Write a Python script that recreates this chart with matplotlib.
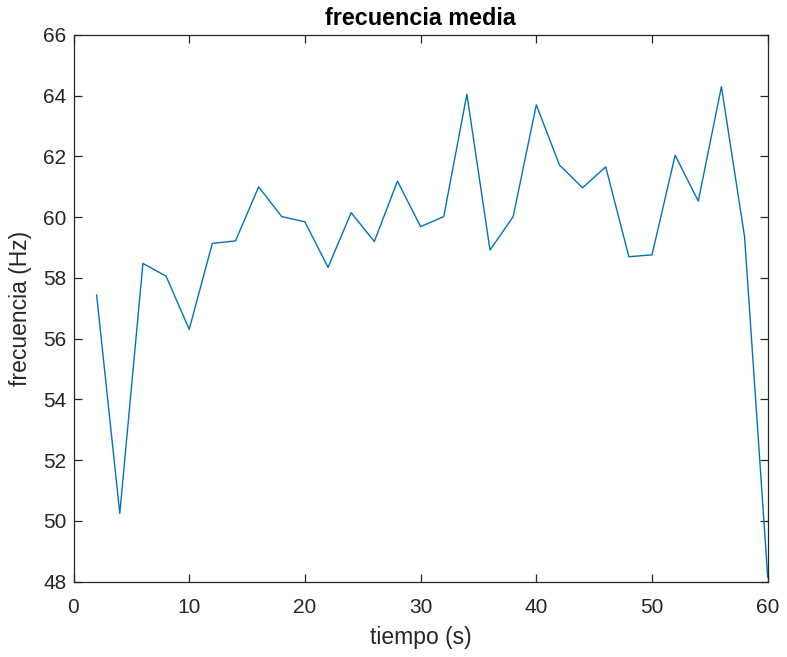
import numpy as np
import matplotlib.pyplot as plt

plt.rcParams['font.family'] = ['Liberation Sans', 'DejaVu Sans']

# tiempo de cada ventana y su frecuencia media
tiempo = [2, 4, 6, 8, 10, 12, 14, 16, 18, 20, 22, 24, 26, 28, 30,
          32, 34, 36, 38, 40, 42, 44, 46, 48, 50, 52, 54, 56, 58, 60]
frecuencia = [57.44, 50.25, 58.48, 58.06, 56.31, 59.14, 59.22, 61.0, 60.02, 59.85,
              58.35, 60.15, 59.2, 61.19, 59.69, 60.02, 64.05, 58.92, 60.02, 63.7,
              61.72, 60.97, 61.66, 58.7, 58.76, 62.04, 60.53, 64.3, 59.36, 48.15]

xticks = [0, 10, 20, 30, 40, 50, 60]
yticks = [48, 50, 52, 54, 56, 58, 60, 62, 64, 66]

fig = plt.figure(figsize=(7.87, 6.57), dpi=100)
ax = fig.add_axes([73.5 / 787, 1 - 581.7 / 657, (767.7 - 73.5) / 787, (581.7 - 35) / 657])

ax.plot(tiempo, frecuencia, color='#0072BD', linewidth=1.0)

ax.set_xlim(0, 60)
ax.set_ylim(48, 66)
ax.set_xticks(xticks)
ax.set_yticks(yticks)

gris = '#262626'
for s in ax.spines.values():
    s.set_color(gris)
    s.set_linewidth(0.9)
ax.tick_params(direction='in', top=True, right=True, length=6, width=0.9,
               colors=gris, labelsize=15)
ax.tick_params(axis='x', pad=12)
ax.tick_params(axis='y', pad=5)

ax.set_title('frecuencia media', fontsize=16.8, fontweight='bold', color='black', pad=7)
ax.set_xlabel('tiempo (s)', fontsize=16.5, color=gris, labelpad=6)
ax.set_ylabel('frecuencia (Hz)', fontsize=16.5, color=gris, labelpad=8)

fig.savefig('out.png', dpi=100)
